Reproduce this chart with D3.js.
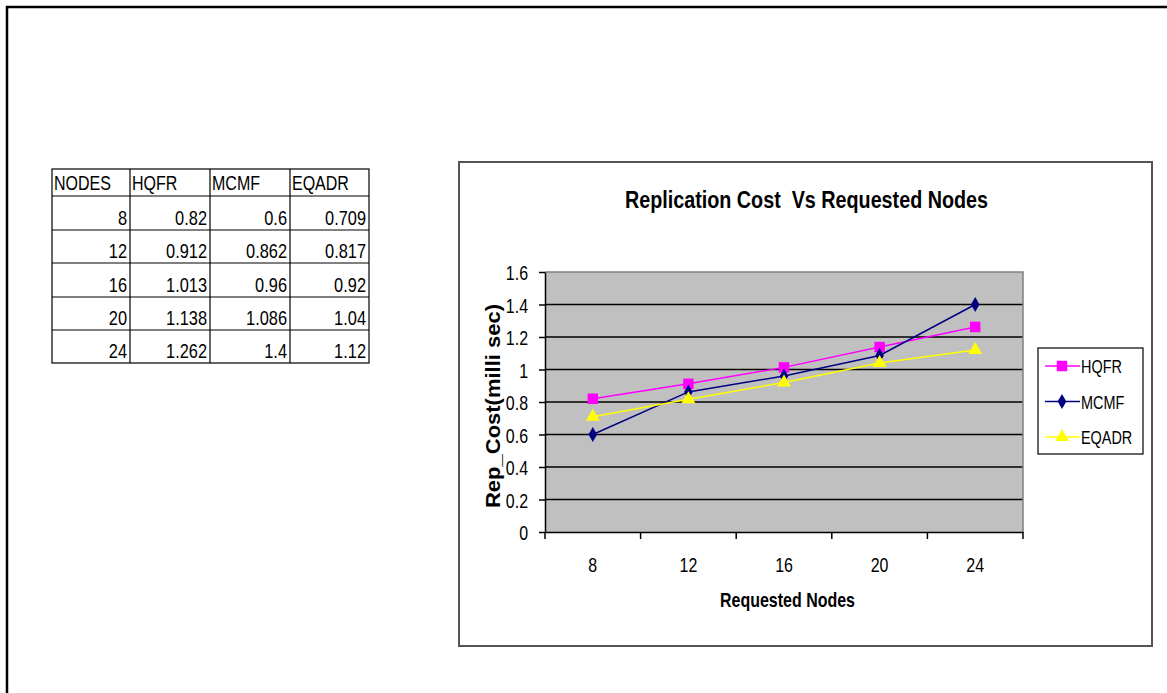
<!DOCTYPE html>
<html><head><meta charset="utf-8">
<script src="https://cdn.jsdelivr.net/npm/d3@7"></script>
<style>body{margin:0;background:#fff;}svg{display:block;}</style>
</head><body>
<svg id="c" width="1167" height="693"></svg>
<script>
const nodes = [8, 12, 16, 20, 24];
const hqfr = [0.82, 0.912, 1.013, 1.138, 1.262];
const mcmf = [0.6, 0.862, 0.96, 1.086, 1.4];
const eqadr = [0.709, 0.817, 0.92, 1.04, 1.12];
const tableHeaders = ["NODES", "HQFR", "MCMF", "EQADR"];
const tableRows = [
  ["8", "0.82", "0.6", "0.709"],
  ["12", "0.912", "0.862", "0.817"],
  ["16", "1.013", "0.96", "0.92"],
  ["20", "1.138", "1.086", "1.04"],
  ["24", "1.262", "1.4", "1.12"]
];
const yTicks = [0, 0.2, 0.4, 0.6, 0.8, 1, 1.2, 1.4, 1.6];
const series = [
  {name: "HQFR", values: hqfr, color: "#ff00ff", marker: "square"},
  {name: "MCMF", values: mcmf, color: "#000080", marker: "diamond"},
  {name: "EQADR", values: eqadr, color: "#ffff00", marker: "triangle"}
];

const svg = d3.select("#c");
const FONT = "'Liberation Sans', Arial, sans-serif";

function addText(g, x, y, str, size, sx, anchor, weight) {
  return g.append("text").attr("transform", `translate(${x},${y}) scale(${sx},1)`)
    .attr("text-anchor", anchor || "start").attr("font-family", FONT)
    .attr("font-size", size).attr("font-weight", weight || "normal").attr("fill", "#000").text(str);
}

// outer page border
svg.append("path").attr("d", "M7,693 V7 H1167").attr("fill", "none").attr("stroke", "#000").attr("stroke-width", 2.5);

// table
const colX = [52, 130, 210, 290, 369];
const rowY = [169, 196, 230, 263, 297, 330, 363];
const tg = svg.append("g");
tg.append("rect").attr("x", colX[0]).attr("y", rowY[0]).attr("width", colX[4]-colX[0]).attr("height", rowY[6]-rowY[0]).attr("fill", "none").attr("stroke", "#000").attr("stroke-width", 1.2);
colX.slice(1, 4).forEach(x => tg.append("line").attr("x1", x).attr("x2", x).attr("y1", rowY[0]).attr("y2", rowY[6]).attr("stroke", "#000").attr("stroke-width", 1.2));
rowY.slice(1, 6).forEach(y => tg.append("line").attr("x1", colX[0]).attr("x2", colX[4]).attr("y1", y).attr("y2", y).attr("stroke", "#000").attr("stroke-width", 1.2));
tableHeaders.forEach((h, i) => addText(tg, colX[i] + 2, rowY[1] - 6, h, 20, 0.8));
tableRows.forEach((r, ri) => r.forEach((v, ci) => addText(tg, colX[ci+1] - 3, rowY[ri+2] - 5, v, 19.5, 0.84, "end")));

// chart box
svg.append("rect").attr("x", 459).attr("y", 162).attr("width", 693).attr("height", 484)
  .attr("fill", "#fff").attr("stroke", "#555").attr("stroke-width", 2);

const L = 545, R = 1023, T = 272, B = 532;
const x = d3.scaleBand().domain(nodes).range([L, R]);
const y = d3.scaleLinear().domain([0, 1.6]).range([B, T]);

svg.append("rect").attr("x", L).attr("y", T).attr("width", R-L).attr("height", B-T).attr("fill", "#c0c0c0");
svg.append("g").selectAll("line").data(yTicks.slice(1, -1)).join("line")
  .attr("x1", L).attr("x2", R).attr("y1", d => y(d)).attr("y2", d => y(d)).attr("stroke", "#000").attr("stroke-width", 1.6);
svg.append("path").attr("d", `M${L},${T} H${R} V${B}`).attr("fill", "none").attr("stroke", "#808080").attr("stroke-width", 1.5);

// y axis
const tSX = 0.76;
const yAx = svg.append("g").attr("transform", `translate(${L},0)`)
  .call(d3.axisLeft(y).tickValues(yTicks).tickSize(6).tickSizeOuter(0).tickFormat(d => d3.format("")(d)));
yAx.select(".domain").attr("stroke", "#000").attr("stroke-width", 1.5);
yAx.selectAll(".tick line").attr("stroke", "#000").attr("stroke-width", 1.5);
yAx.selectAll("text").attr("font-family", FONT).attr("font-size", 21).attr("fill", "#000")
  .attr("x", -17 / tSX).attr("dy", "0.36em").attr("transform", `scale(${tSX},1)`);

// x axis
const xAx = svg.append("g").attr("transform", `translate(0,${B})`)
  .call(d3.axisBottom(x).tickSize(0).tickSizeOuter(0));
xAx.select(".domain").attr("stroke", "#000").attr("stroke-width", 1.5);
xAx.selectAll("text").attr("font-family", FONT).attr("font-size", 21).attr("fill", "#000")
  .attr("dy", 0).attr("y", 40).attr("x", 0).attr("transform", `scale(${tSX},1)`);
const bounds = nodes.map(n => x(n)).concat([R]);
svg.append("g").selectAll("line").data(bounds).join("line")
  .attr("x1", d => d).attr("x2", d => d).attr("y1", B).attr("y2", B + 7).attr("stroke", "#000").attr("stroke-width", 1.5);

const cx = n => x(n) + x.bandwidth() / 2;
const sym = {
  square: d3.symbol().type(d3.symbolSquare).size(110),
  diamond: d3.symbol().type(d3.symbolDiamond).size(65),
  triangle: d3.symbol().type(d3.symbolTriangle).size(85)
};

series.forEach(s => {
  const line = d3.line().x((d, i) => cx(nodes[i])).y(d => y(d));
  svg.append("path").datum(s.values).attr("d", line).attr("fill", "none").attr("stroke", s.color).attr("stroke-width", 1.5);
  svg.append("g").selectAll("path").data(s.values).join("path")
    .attr("transform", (d, i) => `translate(${cx(nodes[i])},${y(d)})`)
    .attr("d", sym[s.marker]).attr("fill", s.color);
});

// titles
svg.append("text").attr("x", 625).attr("y", 208).style("white-space", "pre")
  .attr("font-family", FONT).attr("font-weight", "bold").attr("font-size", 23).attr("fill", "#000")
  .attr("textLength", 363).attr("lengthAdjust", "spacingAndGlyphs")
  .text("Replication Cost  Vs Requested Nodes");
svg.append("text").attr("x", 720).attr("y", 607)
  .attr("font-family", FONT).attr("font-weight", "bold").attr("font-size", 21).attr("fill", "#000")
  .attr("textLength", 135).attr("lengthAdjust", "spacingAndGlyphs")
  .text("Requested Nodes");
svg.append("text").attr("transform", "translate(500,508) rotate(-90)")
  .attr("font-family", FONT).attr("font-weight", "bold").attr("font-size", 20).attr("fill", "#000")
  .attr("textLength", 204).attr("lengthAdjust", "spacingAndGlyphs")
  .text("Rep_Cost(milli sec)");

// legend
const lg = svg.append("g");
lg.append("rect").attr("x", 1038).attr("y", 348).attr("width", 105).attr("height", 106).attr("fill", "#fff").attr("stroke", "#000").attr("stroke-width", 1.2);
series.forEach((s, i) => {
  const yy = 366 + i * 35.5;
  lg.append("line").attr("x1", 1045).attr("x2", 1080).attr("y1", yy).attr("y2", yy).attr("stroke", s.color).attr("stroke-width", 1.5);
  lg.append("path").attr("transform", `translate(1062,${yy})`).attr("d", sym[s.marker]).attr("fill", s.color);
  addText(lg, 1081, yy + 7, s.name, 18.5, 0.78);
});
</script>
</body></html>
